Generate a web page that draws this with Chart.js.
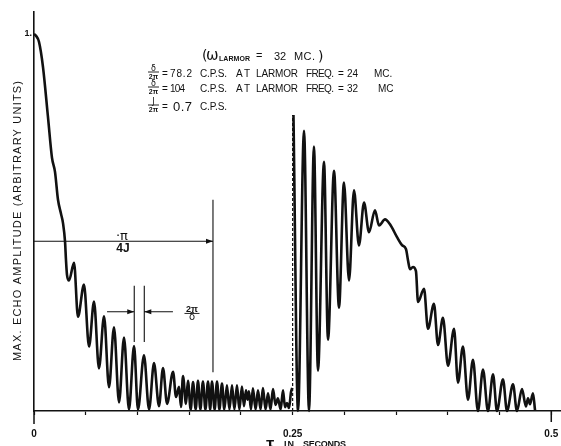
<!DOCTYPE html>
<html><head><meta charset="utf-8">
<style>html,body{margin:0;padding:0;background:#fff;}#wrap{width:561px;height:446px;}</style>
<script src="https://cdn.jsdelivr.net/npm/chart.js@4.4.0/dist/chart.umd.min.js"></script>
</head><body><div id="wrap"><canvas id="c" width="561" height="446"></canvas></div>
<script>
// ---- data (tau in seconds, amplitude in arbitrary units) ----
const tauBefore = [0,0.0019,0.0048,0.0087,0.0135,0.0174,0.0203,0.0232,0.0261,0.0280,0.0300,0.0309,0.0319,0.0338,0.0387,0.0425,0.0483,0.0532,0.0580,0.0628,0.0677,0.0725,0.0773,0.0822,0.0870,0.0918,0.0967,0.1005,0.1063,0.1112,0.1160,0.1208,0.1247,0.1286,0.1344,0.1373,0.1402,0.1421,0.1440,0.1469,0.1488,0.1515,0.1537,0.1563,0.1585,0.1608,0.1633,0.1657,0.1682,0.1703,0.1720,0.1746,0.1769,0.1792,0.1817,0.1840,0.1865,0.1889,0.1914,0.1937,0.1962,0.1985,0.2010,0.2030,0.2049,0.2064,0.2078,0.2097,0.2116,0.2142,0.2165,0.2190,0.2213,0.2238,0.2262,0.2286,0.2310,0.2335,0.2358,0.2384,0.2407,0.2426,0.2445,0.2465,0.2484,0.2496];
const ampBefore = [1.000,0.995,0.979,0.912,0.780,0.671,0.634,0.560,0.523,0.499,0.449,0.401,0.361,0.346,0.393,0.250,0.335,0.171,0.290,0.113,0.251,0.063,0.222,0.023,0.195,0.004,0.172,0.004,0.148,0.004,0.127,0.013,0.114,0.019,0.104,0.037,0.064,0.011,0.093,0.019,0.080,0.004,0.077,0.004,0.080,0.004,0.078,0.004,0.078,0.004,0.078,0.004,0.078,0.004,0.073,0.004,0.068,0.004,0.068,0.004,0.068,0.004,0.065,0.013,0.055,0.030,0.052,0.004,0.060,0.004,0.055,0.004,0.061,0.004,0.047,0.004,0.058,0.016,0.034,0.004,0.055,0.010,0.021,0.008,0.050,0.061];
const tauAfter = [0.2508,0.2552,0.2610,0.2658,0.2706,0.2745,0.2803,0.2842,0.2900,0.2948,0.2996,0.3045,0.3093,0.3141,0.3190,0.3238,0.3296,0.3335,0.3393,0.3441,0.3509,0.3557,0.3596,0.3615,0.3634,0.3663,0.3692,0.3712,0.3770,0.3808,0.3866,0.3905,0.3953,0.4002,0.4060,0.4098,0.4146,0.4195,0.4243,0.4291,0.4340,0.4388,0.4437,0.4475,0.4533,0.4572,0.4630,0.4668,0.4717,0.4755,0.4775,0.4794,0.4823,0.4843];
const ampAfter = [0.785,0.000,0.743,0.000,0.701,0.107,0.661,0.189,0.637,0.274,0.606,0.346,0.585,0.439,0.553,0.474,0.532,0.492,0.508,0.495,0.461,0.440,0.429,0.400,0.376,0.382,0.371,0.289,0.324,0.218,0.284,0.175,0.247,0.120,0.218,0.075,0.171,0.030,0.136,0.000,0.110,0.000,0.097,0.000,0.084,0.000,0.071,0.000,0.058,0.012,0.034,0.018,0.047,0.002];
const refocusTau = [0.25, 0.25];
const refocusAmp = [0, 0.785];
const xTicks = [0,0.05,0.1,0.15,0.2,0.25,0.3,0.35,0.4,0.45,0.5];
const xTickLabels = ['0','','','','','0.25','','','','','0.5'];
const yTicks = [1];
const yTickLabels = ['1.'];

// annotation geometry in data units
const annot = {
  jLine: {y:0.450, x0:0, x1:0.173},
  jMark: {x:0.173, y0:0.103, y1:0.560},
  jLabel: {x:0.086, y:0.450},
  dMarks: {x:[0.0969,0.1066], y0:0.183, y1:0.332},
  dArrowY: 0.263, dLeft:[0.0706,0.0969], dRight:[0.1343,0.1066],
  dLabel: {x:0.1527, y:0.260}
};

const INK = '#111';
function pts(xs, ys){ return xs.map((t,i)=>({x:t, y:ys[i]})); }

function fitText(ctx, text, x0, x1, y){
  const w = ctx.measureText(text).width;
  const n = [...text].length;
  if (x1 == null || n < 2) { ctx.fillText(text, x0, y); return; }
  if ('letterSpacing' in ctx) {
    ctx.letterSpacing = ((x1 - x0 - w) / (n - 1)) + 'px';
    ctx.fillText(text, x0, y);
    ctx.letterSpacing = '0px';
  } else {
    ctx.save(); ctx.translate(x0, y); ctx.scale((x1-x0)/w, 1); ctx.fillText(text, 0, 0); ctx.restore();
  }
}
function arrowHead(ctx, x, y, dir){
  ctx.beginPath();
  ctx.moveTo(x, y);
  ctx.lineTo(x - dir*7, y - 2.5);
  ctx.lineTo(x - dir*7, y + 2.5);
  ctx.closePath(); ctx.fill();
}
function frac(ctx, num, den, cx, yBar, w, fNum, fDen){
  ctx.textAlign = 'center';
  ctx.font = fNum; ctx.textBaseline = 'alphabetic';
  ctx.fillText(num, cx, yBar - 1);
  ctx.font = fDen;
  ctx.fillText(den, cx, yBar + 7);
  ctx.lineWidth = 0.9;
  ctx.beginPath(); ctx.moveTo(cx - w/2, yBar + 0.5); ctx.lineTo(cx + w/2, yBar + 0.5); ctx.stroke();
  ctx.textAlign = 'left';
}

const annotPlugin = {
  id: 'annot',
  afterDraw(chart){
    const ctx = chart.ctx, xs = chart.scales.x, ys = chart.scales.y;
    const X = v => xs.getPixelForValue(v), Y = v => ys.getPixelForValue(v);
    ctx.save();
    ctx.strokeStyle = INK; ctx.fillStyle = INK;
    // longer ticks at 0 and 0.5
    ctx.lineWidth = 1.5;
    ctx.beginPath(); ctx.moveTo(X(0), Y(0)); ctx.lineTo(X(0), Y(0)+13);
    ctx.moveTo(X(0.5), Y(0)); ctx.lineTo(X(0.5), Y(0)+11); ctx.stroke();

    // pi/4J arrow
    ctx.lineWidth = 1.1;
    ctx.beginPath();
    ctx.moveTo(X(annot.jLine.x0), Y(annot.jLine.y)); ctx.lineTo(X(annot.jLine.x1), Y(annot.jLine.y));
    ctx.moveTo(X(annot.jMark.x), Y(annot.jMark.y0)); ctx.lineTo(X(annot.jMark.x), Y(annot.jMark.y1));
    ctx.stroke();
    arrowHead(ctx, X(annot.jLine.x1), Y(annot.jLine.y), 1);
    // 2pi/delta marks
    ctx.beginPath();
    annot.dMarks.x.forEach(v => { ctx.moveTo(X(v), Y(annot.dMarks.y0)); ctx.lineTo(X(v), Y(annot.dMarks.y1)); });
    ctx.moveTo(X(annot.dLeft[0]), Y(annot.dArrowY)); ctx.lineTo(X(annot.dLeft[1]), Y(annot.dArrowY));
    ctx.moveTo(X(annot.dRight[0]), Y(annot.dArrowY)); ctx.lineTo(X(annot.dRight[1]), Y(annot.dArrowY));
    ctx.stroke();
    arrowHead(ctx, X(annot.dLeft[1]), Y(annot.dArrowY), 1);
    arrowHead(ctx, X(annot.dRight[1]), Y(annot.dArrowY), -1);

    // labels on annotations
    const jx = X(annot.jLabel.x), jy = Y(annot.jLabel.y);
    ctx.textAlign = 'center'; ctx.textBaseline = 'alphabetic';
    ctx.font = '13px "DejaVu Sans"';
    ctx.fillText('·π', jx - 1, jy - 1);
    ctx.font = 'bold 12px "Liberation Sans"';
    ctx.fillText('4J', jx, jy + 11);
    frac(ctx, '2π', 'δ', X(annot.dLabel.x), Y(annot.dLabel.y), 15, 'bold 9px "Liberation Sans"', '10px "DejaVu Sans"');

    // text block
    ctx.textAlign = 'left'; ctx.textBaseline = 'alphabetic';
    const seg = (t, x0, x1, y, f) => { ctx.font = f; fitText(ctx, t, x0, x1, y); };
    const F = '10px "Liberation Sans"';
    seg('(', 202, null, 60, '14px "DejaVu Sans"');
    seg('ω', 206, null, 60, '15px "DejaVu Sans"');
    seg('LARMOR', 219, 250, 61, 'bold 7px "Liberation Sans"');
    seg('=', 256, null, 59, '11px "Liberation Sans"');
    seg('32', 274, null, 60, '11px "Liberation Sans"');
    seg('MC.', 294, 315, 60, '11px "Liberation Sans"');
    seg(')', 318, null, 61, '14px "DejaVu Sans"');

    frac(ctx, 'δ', '2π', 153.5, 71.5, 11, '8px "DejaVu Sans"', 'bold 7px "Liberation Sans"');
    [['=',162,null],['78.2',170,192],['C.P.S.',200,227],['AT',236,250],['LARMOR',256,298],['FREQ.',306,334],['=',338,null],['24',347,null],['MC.',374,null]]
      .forEach(s => seg(s[0], s[1], s[2], 77, F));
    frac(ctx, 'δ', '2π', 153.5, 86.5, 11, '8px "DejaVu Sans"', 'bold 7px "Liberation Sans"');
    [['=',162,null],['104',170,185],['C.P.S.',200,227],['AT',236,250],['LARMOR',256,298],['FREQ.',306,334],['=',338,null],['32',347,null],['MC',378,null]]
      .forEach(s => seg(s[0], s[1], s[2], 92, F));
    frac(ctx, 'J', '2π', 153.5, 104.5, 11, '8px "DejaVu Sans"', 'bold 7px "Liberation Sans"');
    seg('=', 162, null, 110, F);
    seg('0.7', 173, 192, 111, '13px "Liberation Sans"');
    seg('C.P.S.', 200, 227, 110, F);

    // axis titles
    ctx.save();
    ctx.translate(18, 221); ctx.rotate(-Math.PI/2);
    ctx.textBaseline = 'middle';
    ctx.font = '11px "Liberation Sans"';
    fitText(ctx, 'MAX. ECHO AMPLITUDE (ARBITRARY UNITS)', -140, 140, 0);
    ctx.restore();
    ctx.textBaseline = 'top';
    ctx.font = 'bold 13px "DejaVu Sans"';
    ctx.fillText('τ', 266, 437);
    ctx.font = 'bold 9px "Liberation Sans"';
    fitText(ctx, 'IN', 284, 294, 440);
    fitText(ctx, 'SECONDS', 303, 346, 440);
    ctx.restore();
  }
};

const lineStyle = {borderColor: INK, borderWidth: 2.6, pointRadius: 0, showLine: true, cubicInterpolationMode: 'monotone', clip: false, fill: false};

new Chart(document.getElementById('c'), {
  type: 'scatter',
  data: {
    datasets: [
      Object.assign({label: 'before', data: pts(tauBefore, ampBefore)}, lineStyle),
      Object.assign({label: 'after', data: pts(tauAfter, ampAfter)}, lineStyle),
      {label: 'refocus', data: pts(refocusTau, refocusAmp), borderColor: INK, borderWidth: 1.2, borderDash: [3, 2], pointRadius: 0, showLine: true, clip: false}
    ]
  },
  options: {
    responsive: false, animation: false, events: [],
    layout: {padding: {top: 12, left: 0, right: 0, bottom: 0}},
    plugins: {legend: {display: false}, tooltip: {enabled: false}},
    scales: {
      x: {
        type: 'linear', min: 0, max: 0.5094,
        afterBuildTicks: s => { s.ticks = xTicks.map(v => ({value: v})); },
        afterFit: s => { s.height = 35; s.paddingLeft = 0; s.paddingRight = 0; },
        ticks: {autoSkip: false, maxRotation: 0, padding: 13, color: INK,
          font: {family: '"Liberation Sans"', size: 10, weight: 'bold'},
          callback: (v, i) => xTickLabels[i]},
        grid: {display: true, drawOnChartArea: false, drawTicks: true, tickLength: 4, tickColor: INK, tickWidth: 1.2},
        border: {display: true, color: INK, width: 1.6}
      },
      y: {
        type: 'linear', min: 0, max: 1.058,
        afterBuildTicks: s => { s.ticks = yTicks.map(v => ({value: v})); },
        afterFit: s => { s.width = 34; s.paddingTop = 0; s.paddingBottom = 0; },
        ticks: {padding: 2, color: INK, font: {family: '"Liberation Sans"', size: 9, weight: 'bold'},
          callback: (v, i) => yTickLabels[i]},
        grid: {display: true, drawOnChartArea: false, drawTicks: false, tickLength: 0},
        border: {display: true, color: INK, width: 1.6}
      }
    }
  },
  plugins: [annotPlugin]
});
</script></body></html>
